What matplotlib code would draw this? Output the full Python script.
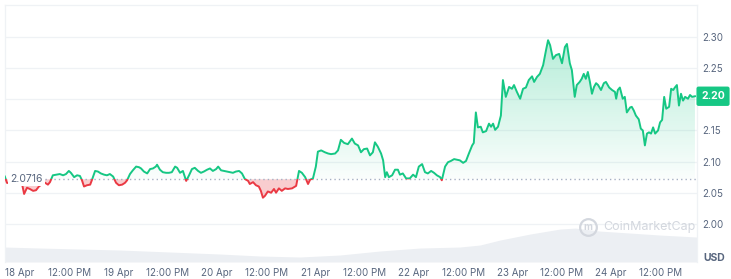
import numpy as np
import pandas as pd
import matplotlib
matplotlib.use("Agg")
import matplotlib.pyplot as plt
import matplotlib.dates as mdates
import matplotlib.transforms as mtransforms
from matplotlib.patches import Rectangle
from matplotlib.path import Path
from matplotlib.colors import LinearSegmentedColormap

plt.rcParams["font.family"] = ["Inter", "DejaVu Sans"]

# ==========================================
# 1. CORES E CONSTANTES
# ==========================================
VERDE = "#16c784"
VERMELHO = "#ea3943"
CINZA_TEXTO = "#58667e"
CINZA_GRADE = "#eff2f5"
CINZA_VOLUME = "#eceff3"

INICIO = pd.Timestamp("2025-04-18 00:00")
PRECO_BASE = 2.0716
PRECO_ATUAL = "2.20"

# ==========================================
# 2. DADOS (horas desde 18 Apr 00:00)
# ==========================================
horas = [
    -3.7, -3.2, -1.9, -0.7, 0.5, 1.0, 1.7, 2.4, 3.2, 3.9, 4.6, 5.4, 6.1, 6.8, 7.3,
    8.0, 8.8, 9.7, 10.5, 11.2, 11.9, 12.4, 13.2, 13.9, 14.6, 15.1, 15.6, 16.3, 17.1, 17.5,
    18.3, 19.0, 19.7, 20.5, 21.2, 21.9, 22.7, 23.4, 24.1, 24.9, 25.6, 26.1, 26.8, 27.5, 28.3,
    29.0, 29.5, 30.2, 31.0, 31.7, 32.4, 33.1, 33.4, 34.1, 34.8, 35.6, 36.3, 37.0, 37.8, 38.3,
    39.0, 39.7, 40.5, 41.2, 41.9, 42.6, 43.4, 44.1, 44.8, 45.6, 46.3, 47.0, 47.8, 48.3, 49.0,
    49.7, 50.4, 51.2, 51.9, 52.6, 53.4, 54.1, 54.8, 55.6, 56.0, 56.8, 57.5, 58.2, 58.7, 59.2,
    59.7, 60.4, 61.2, 61.9, 62.4, 63.1, 63.8, 64.6, 65.3, 66.3, 67.3, 68.0, 68.7, 69.5, 70.2,
    70.7, 71.4, 72.1, 72.6, 73.4, 74.3, 75.1, 75.8, 76.8, 77.5, 78.2, 79.0, 79.9, 80.9, 81.6,
    82.4, 83.1, 83.8, 84.6, 85.3, 86.0, 86.5, 87.2, 88.0, 88.5, 89.0, 89.4, 89.9, 90.7, 91.4,
    92.1, 92.6, 93.3, 94.1, 95.0, 95.8, 96.5, 97.2, 98.0, 98.7, 99.4, 100.2, 100.9, 101.6, 102.4,
    102.8, 103.6, 104.3, 105.0, 105.8, 106.5, 107.2, 108.0, 108.7, 109.4, 110.2, 110.6, 111.1, 111.6, 112.3,
    112.8, 113.6, 114.3, 114.8, 115.3, 115.8, 116.5, 117.2, 117.7, 118.4, 119.2, 119.9, 120.4, 121.1, 121.9,
    122.6, 123.3, 124.0, 124.8, 125.3, 126.0, 126.7, 127.5, 128.2, 128.7, 129.2, 129.9, 130.6, 131.4, 132.1,
    132.8, 133.3, 134.0, 134.5, 135.2, 135.7, 136.4, 136.9, 137.4, 137.9, 138.4, 138.9, 139.4, 139.9, 140.4,
    140.9, 141.6, 142.3, 142.8, 143.6, 144.3, 145.0, 145.3, 145.7, 146.2, 146.9, 147.4, 147.9, 148.7, 149.1,
    149.6, 150.1, 150.8, 151.3, 151.8, 152.3, 152.8, 153.3, 153.8, 154.3, 154.8, 155.5, 156.0, 156.5, 157.0,
    157.5, 158.2, 158.7, 159.2, 159.6, 160.1, 160.6, 161.1, 161.6, 162.1, 162.8, 163.3, 163.8, 164.5,
]
precos = [
    2.076, 2.066, 2.064, 2.063, 2.064, 2.048, 2.058, 2.056, 2.053, 2.054, 2.060, 2.064, 2.066, 2.063, 2.067,
    2.078, 2.079, 2.080, 2.078, 2.080, 2.085, 2.082, 2.075, 2.078, 2.077, 2.070, 2.060, 2.062, 2.063, 2.070,
    2.085, 2.084, 2.081, 2.079, 2.078, 2.080, 2.076, 2.066, 2.062, 2.063, 2.066, 2.070, 2.080, 2.086, 2.092,
    2.091, 2.089, 2.084, 2.081, 2.088, 2.089, 2.092, 2.095, 2.087, 2.083, 2.082, 2.082, 2.083, 2.092, 2.090,
    2.082, 2.085, 2.069, 2.078, 2.088, 2.090, 2.085, 2.082, 2.084, 2.087, 2.089, 2.085, 2.088, 2.092, 2.086,
    2.085, 2.084, 2.083, 2.082, 2.084, 2.085, 2.081, 2.072, 2.069, 2.064, 2.067, 2.062, 2.060, 2.053, 2.042,
    2.045, 2.052, 2.050, 2.056, 2.050, 2.057, 2.053, 2.057, 2.056, 2.057, 2.061, 2.085, 2.082, 2.075, 2.064,
    2.071, 2.073, 2.092, 2.116, 2.118, 2.115, 2.113, 2.112, 2.113, 2.118, 2.135, 2.130, 2.128, 2.137, 2.129,
    2.126, 2.115, 2.120, 2.121, 2.110, 2.115, 2.131, 2.124, 2.113, 2.102, 2.075, 2.083, 2.075, 2.078, 2.087,
    2.087, 2.079, 2.081, 2.073, 2.073, 2.079, 2.075, 2.092, 2.096, 2.083, 2.081, 2.085, 2.082, 2.078, 2.075,
    2.070, 2.092, 2.099, 2.101, 2.104, 2.103, 2.102, 2.098, 2.101, 2.113, 2.126, 2.130, 2.179, 2.155, 2.156,
    2.147, 2.149, 2.161, 2.156, 2.161, 2.151, 2.156, 2.174, 2.231, 2.204, 2.220, 2.217, 2.223, 2.212, 2.201,
    2.217, 2.219, 2.231, 2.237, 2.228, 2.236, 2.241, 2.255, 2.279, 2.295, 2.287, 2.265, 2.271, 2.273, 2.258,
    2.284, 2.289, 2.258, 2.247, 2.204, 2.223, 2.228, 2.233, 2.241, 2.233, 2.244, 2.228, 2.209, 2.220, 2.226,
    2.223, 2.215, 2.226, 2.228, 2.219, 2.215, 2.212, 2.201, 2.215, 2.219, 2.201, 2.204, 2.179, 2.187, 2.188,
    2.182, 2.174, 2.168, 2.153, 2.150, 2.126, 2.145, 2.147, 2.145, 2.155, 2.145, 2.150, 2.163, 2.167, 2.204,
    2.185, 2.188, 2.217, 2.215, 2.219, 2.223, 2.190, 2.209, 2.198, 2.204, 2.201, 2.207, 2.204, 2.205,
]

# volume (milhões USD, escala relativa)
vol_horas = [-3.7, 4.9, 14.6, 24.4, 36.6, 48.7, 58.5, 68.2, 78.0, 87.7, 97.5,
             107.2, 112.1, 117.0, 124.3, 131.6, 135.3, 141.3, 148.7, 156.0, 165.0]
volume = [60, 56, 52, 48, 40, 32, 24, 20, 28, 44, 56,
          60, 68, 88, 112, 132, 136, 124, 116, 108, 100]

y_ticks = [2.00, 2.05, 2.10, 2.15, 2.20, 2.25, 2.30]
x_ticks = pd.date_range("2025-04-18", periods=14, freq="12h")
x_labels = [f"{d.day} Apr" if d.hour == 0 else "12:00 PM" for d in x_ticks]

t = INICIO + pd.to_timedelta(horas, unit="h")
t_vol = INICIO + pd.to_timedelta(vol_horas, unit="h")
precos = np.array(precos)

# ==========================================
# 3. FIGURA
# ==========================================
fig = plt.figure(figsize=(7.31, 2.79), dpi=100)
pos = [5 / 731, 17 / 279, 692 / 731, 257 / 279]
ax_vol = fig.add_axes(pos)
ax = fig.add_axes(pos)
ax.patch.set_visible(False)

x_min = INICIO - pd.Timedelta(hours=3.66)
x_max = INICIO + pd.Timedelta(hours=165.0)
y_min, y_max = 1.9387, 2.3516

# Volume ao fundo
ax_vol.fill_between(t_vol, volume, 0, color=CINZA_VOLUME, lw=0)
ax_vol.set_xlim(x_min, x_max)
ax_vol.set_ylim(0, 1030)
ax_vol.axis("off")

# Grade horizontal
for v in y_ticks:
    ax.axhline(v, color=CINZA_GRADE, lw=0.9, zorder=0)

x0, x1 = mdates.date2num(x_min), mdates.date2num(x_max)

# Preenchimento verde em gradiente (acima da base)
area = ax.fill_between(t, precos, PRECO_BASE, color="none", lw=0)
clip = Path.make_compound_path(*area.get_paths())
cmap = LinearSegmentedColormap.from_list(
    "verde", [(0.086, 0.78, 0.52, 0.02), (0.086, 0.78, 0.52, 0.32)])
grad = np.linspace(1, 0, 256).reshape(-1, 1)
im = ax.imshow(grad, cmap=cmap, aspect="auto", origin="upper",
               extent=[x0, x1, PRECO_BASE, 2.30], zorder=1, interpolation="bilinear")
im.set_clip_path(clip, ax.transData)

# Preenchimento vermelho (abaixo da base)
ax.fill_between(t, precos, PRECO_BASE, where=precos < PRECO_BASE, interpolate=True,
                color=VERMELHO, alpha=0.25, lw=0, zorder=1)

# Linha de base pontilhada
ax.axhline(PRECO_BASE, color="#a6b0c3", lw=1, ls=(0, (1, 2.2)), zorder=2)

# Linha de preço: verde acima, vermelho abaixo
for cor, y0, y1 in [(VERDE, PRECO_BASE, y_max), (VERMELHO, y_min, PRECO_BASE)]:
    linha, = ax.plot(t, precos, color=cor, lw=1.4, zorder=3, solid_joinstyle="round")
    linha.set_clip_path(Rectangle((x0, y0), x1 - x0, y1 - y0, transform=ax.transData))

ax.set_xlim(x_min, x_max)
ax.set_ylim(y_min, y_max)

# Eixos (o rótulo 2.20 fica escondido sob a etiqueta do preço atual)
ax.yaxis.tick_right()
ax.set_yticks(y_ticks)
ax.set_yticklabels(["" if f"{v:.2f}" == PRECO_ATUAL else f"{v:.2f}" for v in y_ticks])
ax.set_xticks(x_ticks)
ax.set_xticklabels(x_labels)
ax.tick_params(axis="both", length=0, labelsize=7, labelcolor=CINZA_TEXTO)
ax.tick_params(axis="y", pad=4)
ax.tick_params(axis="x", pad=4)
for lado in ["top", "left", "right"]:
    ax.spines[lado].set_color(CINZA_GRADE)
    ax.spines[lado].set_linewidth(0.9)
ax.spines["bottom"].set_visible(False)

# Rótulo da base
trans = mtransforms.blended_transform_factory(ax.transAxes, ax.transData)
ax.text(0.008, PRECO_BASE, "2.0716", transform=trans, ha="left", va="center",
        fontsize=7.5, color=CINZA_TEXTO, zorder=6,
        bbox=dict(boxstyle="square,pad=0.2", fc="white", ec="none"))

# Etiqueta do preço atual
ax.text(1.006, precos[-1], PRECO_ATUAL, transform=trans, ha="left", va="center",
        fontsize=7.5, fontweight="bold", color="white", zorder=6, clip_on=False,
        bbox=dict(boxstyle="round,pad=0.45,rounding_size=0.2", fc=VERDE, ec="none"))

# USD
fig.text(714 / 731, 1 - 258 / 279, "USD", ha="center", va="center",
         fontsize=7.5, fontweight="bold", color=CINZA_TEXTO)

# Marca d'água
ax.plot([0.842], [0.136], marker="o", ms=12, mfc="none", mec="#d3d7de", mew=1.6,
        transform=ax.transAxes, zorder=2, clip_on=False)
ax.text(0.842, 0.136, "m", transform=ax.transAxes, ha="center", va="center",
        fontsize=7, fontweight="bold", color="#d3d7de", zorder=2)
ax.text(0.864, 0.136, "CoinMarketCap", transform=ax.transAxes, ha="left", va="center",
        fontsize=9, color="#d3d7de", zorder=2)

fig.savefig("out.png", dpi=100, facecolor="white")
